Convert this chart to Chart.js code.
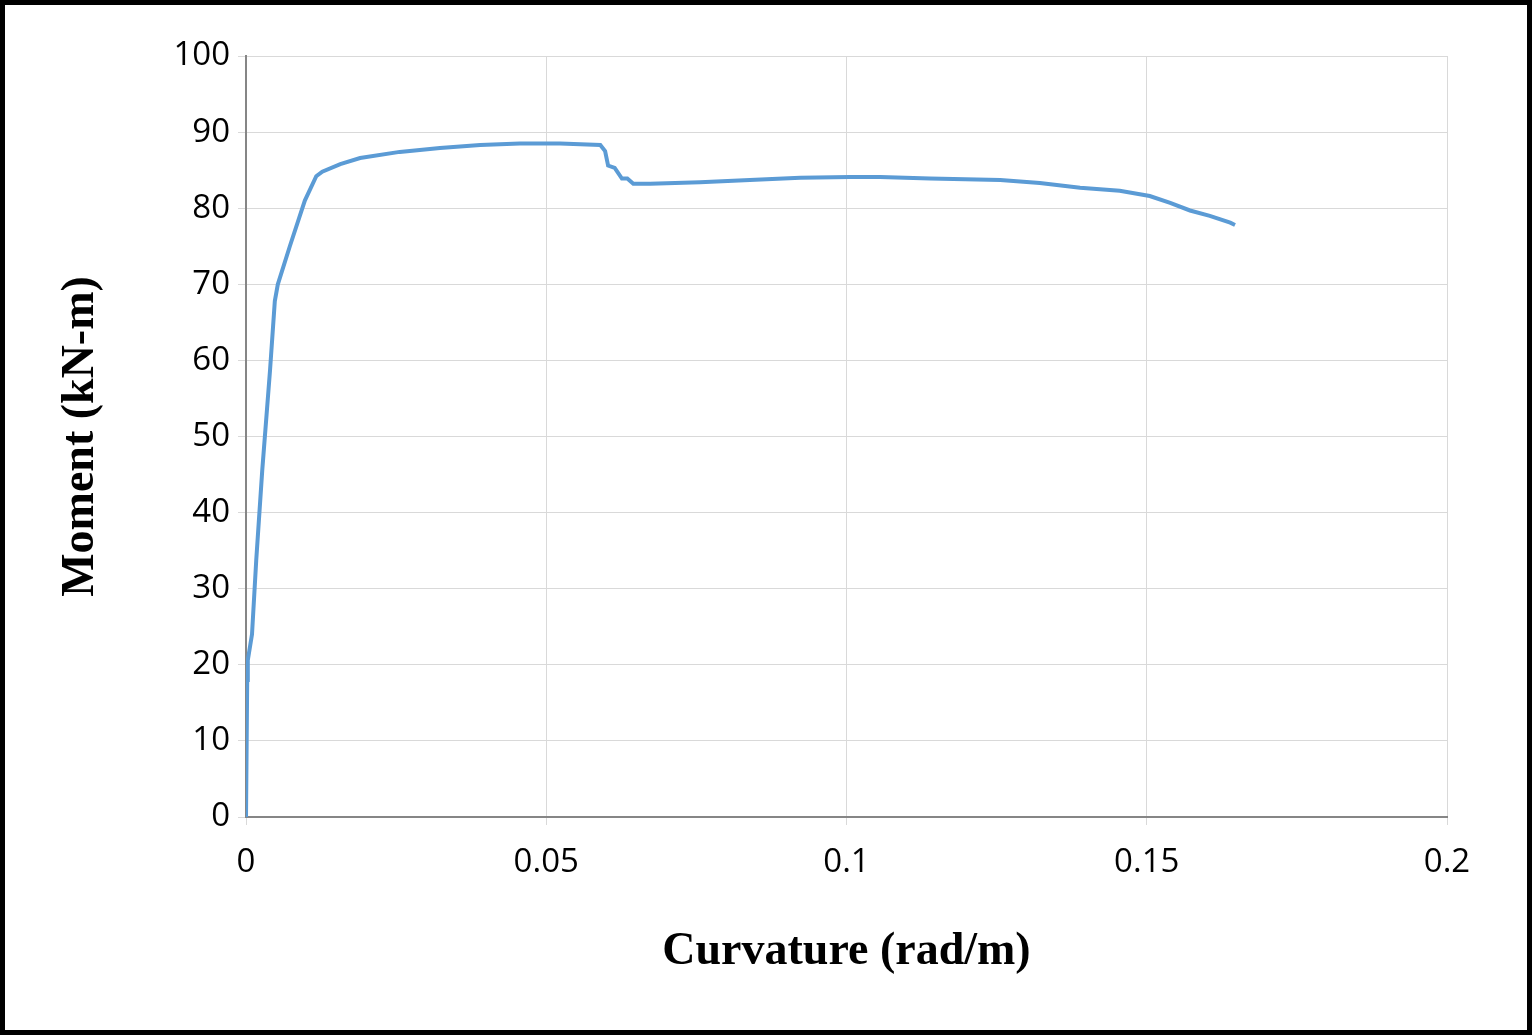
<!DOCTYPE html>
<html>
<head>
<script src="https://cdn.jsdelivr.net/npm/chart.js@4"></script>
<style>
  html, body { margin: 0; padding: 0; background: #fff; }
  #frame { width: 1532px; height: 1035px; box-sizing: border-box; border: 5px solid #000; position: relative; }
  canvas { position: absolute; left: 0; top: 0; }
</style>
</head>
<body>
<div id="frame"><canvas id="chart" width="1522" height="1025"></canvas></div>
<script>
// Curvature (rad/m)
const curvature = [0, 0.0002, 0.0003, 0.001, 0.0017, 0.0027, 0.004, 0.0048, 0.0053, 0.0073, 0.0098, 0.0117, 0.0127,
  0.0157, 0.019, 0.0256, 0.0323, 0.039, 0.0456, 0.0523, 0.059, 0.0598, 0.0603, 0.0614, 0.0626, 0.0635, 0.0645,
  0.0673, 0.0756, 0.0839, 0.0923, 0.1006, 0.1056, 0.1139, 0.1256, 0.1322, 0.1389, 0.1455, 0.1505, 0.1539,
  0.1572, 0.1605, 0.1639, 0.1647];
// Moment (kN-m)
const moment = [0, 18, 20.6, 24, 33.7, 45.5, 58.7, 67.8, 70, 75, 81, 84.2, 84.8,
  85.8, 86.6, 87.4, 87.9, 88.3, 88.5, 88.5, 88.3, 87.5, 85.6, 85.3, 83.9, 83.9, 83.2,
  83.2, 83.4, 83.7, 84.0, 84.1, 84.1, 83.9, 83.7, 83.3, 82.7, 82.3, 81.6, 80.7,
  79.7, 79.0, 78.1, 77.8];

const points = curvature.map((x, i) => ({ x: x, y: moment[i] }));

new Chart(document.getElementById('chart'), {
  type: 'scatter',
  data: {
    datasets: [{
      data: points,
      showLine: true,
      borderColor: '#5B9BD5',
      borderWidth: 4,
      pointRadius: 0,
      tension: 0
    }]
  },
  options: {
    responsive: false,
    animation: false,
    layout: { padding: { top: 51, right: 80, bottom: 0, left: 45 } },
    plugins: { legend: { display: false }, tooltip: { enabled: false } },
    scales: {
      x: {
        min: 0, max: 0.2,
        afterFit: s => { s.height = 213; },
        ticks: { stepSize: 0.05, color: '#000', font: { family: 'Open Sans', size: 33 }, padding: 18,
          callback: v => String(Math.round(v * 100) / 100) },
        grid: { color: '#d9d9d9', tickLength: 8 },
        border: { color: '#868686', width: 2 },
        title: { display: true, text: 'Curvature (rad/m)', color: '#000',
          font: { family: 'Liberation Serif', size: 46, weight: 'bold' }, padding: { top: 18, bottom: 50 } }
      },
      y: {
        min: 0, max: 100,
        afterFit: s => { s.width = 196; },
        ticks: { stepSize: 10, color: '#000', font: { family: 'Open Sans', size: 33 }, padding: 8 },
        grid: { color: '#d9d9d9', tickLength: 8 },
        border: { color: '#868686', width: 2 },
        title: { display: true, text: 'Moment (kN-m)', color: '#000',
          font: { family: 'Liberation Serif', size: 46, weight: 'bold' }, padding: { bottom: 20 } }
      }
    }
  }
});
</script>
</body>
</html>
